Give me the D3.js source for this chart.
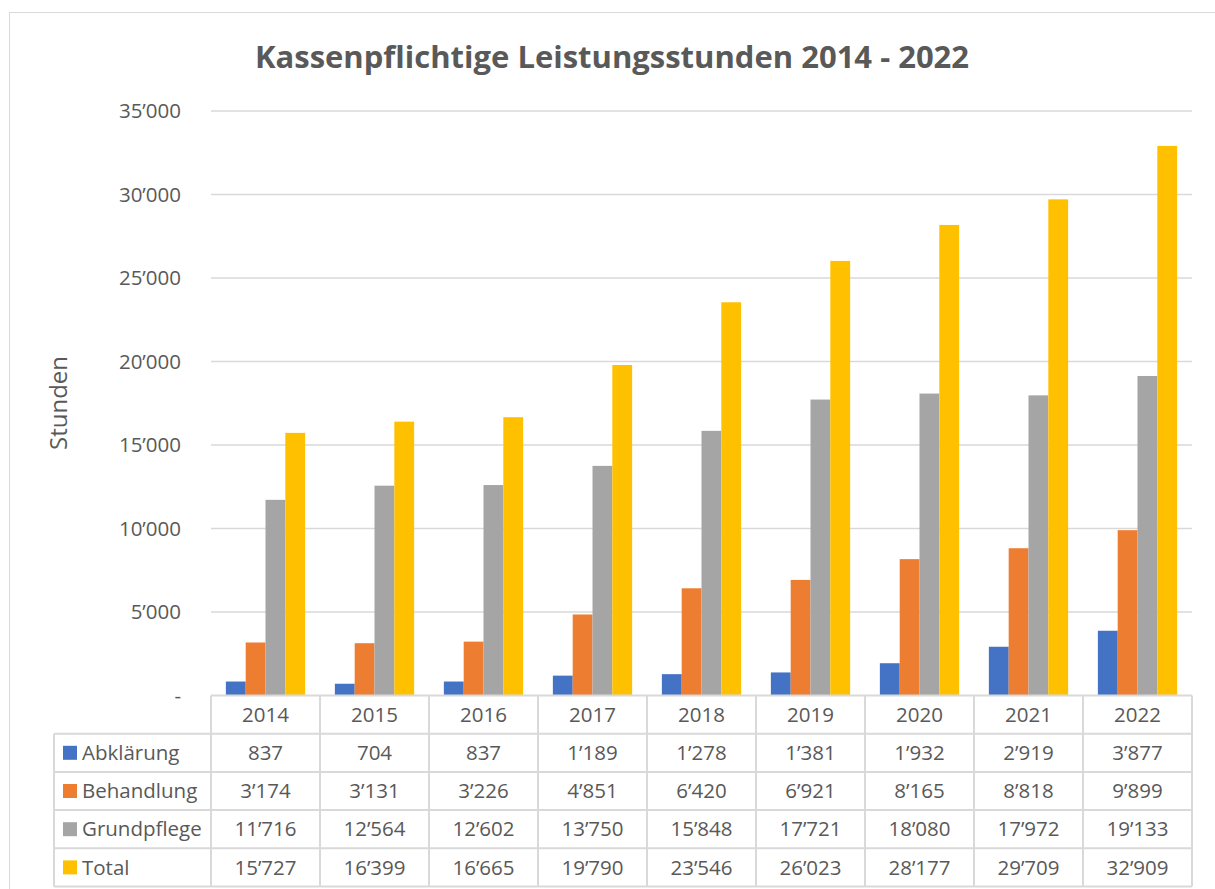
<!DOCTYPE html>
<html>
<head>
  <meta charset="UTF-8">
  <title>Kassenpflichtige Leistungsstunden</title>
  <script src="https://d3js.org/d3.v7.min.js"></script>
  <style>
    body { margin: 0; background: #fff; font-family: "Open Sans", Arial, sans-serif; }
    svg text { fill: #595959; }
  </style>
</head>
<body>
  <svg id="chart" width="1215" height="889"></svg>
  <script>
    const years = ["2014", "2015", "2016", "2017", "2018", "2019", "2020", "2021", "2022"];
    const seriesNames = ["Abklärung", "Behandlung", "Grundpflege", "Total"];
    const abklaerung = [837, 704, 837, 1189, 1278, 1381, 1932, 2919, 3877];
    const behandlung = [3174, 3131, 3226, 4851, 6420, 6921, 8165, 8818, 9899];
    const grundpflege = [11716, 12564, 12602, 13750, 15848, 17721, 18080, 17972, 19133];
    const total = [15727, 16399, 16665, 19790, 23546, 26023, 28177, 29709, 32909];
    const yTicks = [0, 5000, 10000, 15000, 20000, 25000, 30000, 35000];
    const colors = ["#4472C4", "#ED7D31", "#A5A5A5", "#FFC000"];

    const values = [abklaerung, behandlung, grundpflege, total];

    const locale = d3.formatLocale({ decimal: ".", thousands: "\u2019", grouping: [3], currency: ["", ""] });
    const fmt = locale.format(",d");

    const plot = { left: 211, right: 1192, top: 111, bottom: 695.5 };
    const rowH = 38.2;
    const tableLeft = 54;

    const svg = d3.select("#chart");

    // outer chart border
    svg.append("rect")
      .attr("x", 9.5).attr("y", 12.5)
      .attr("width", 1230).attr("height", 900)
      .attr("fill", "none").attr("stroke", "#d9d9d9");

    const x = d3.scaleBand().domain(years).range([plot.left, plot.right]);
    // gap width 150%: each bar = band / 5.5, half the gap on each side
    const edge = x.bandwidth() * 0.75 / 5.5;
    const inner = d3.scaleBand().domain(d3.range(4))
      .range([edge, x.bandwidth() - edge]);

    const y = d3.scaleLinear().domain([0, 35000]).range([plot.bottom, plot.top]);

    // gridlines
    svg.append("g")
      .selectAll("line")
      .data(yTicks.filter(d => d > 0))
      .join("line")
      .attr("x1", plot.left).attr("x2", plot.right)
      .attr("y1", d => y(d)).attr("y2", d => y(d))
      .attr("stroke", "#d9d9d9").attr("stroke-width", 1.3);

    // y axis labels
    const yAxis = d3.axisLeft(y).tickValues(yTicks)
      .tickFormat(d => d === 0 ? "-" : fmt(d)).tickSize(0).tickPadding(30);
    const ya = svg.append("g").attr("transform", `translate(${plot.left},0)`).call(yAxis);
    ya.select(".domain").remove();
    ya.selectAll("text").style("font-size", "20.5px").style("font-family", "'Open Sans', Arial, sans-serif").attr("fill", "#595959");

    // bars
    const groups = svg.append("g").selectAll("g")
      .data(years)
      .join("g")
      .attr("transform", d => `translate(${x(d)},0)`);

    groups.selectAll("rect")
      .data((yr, i) => values.map((v, s) => ({ s, v: v[i] })))
      .join("rect")
      .attr("x", d => inner(d.s))
      .attr("width", inner.bandwidth())
      .attr("y", d => y(d.v))
      .attr("height", d => y(0) - y(d.v))
      .attr("fill", d => colors[d.s]);

    // data table
    const tableBottom = plot.bottom + rowH * 5;
    const tbl = svg.append("g").attr("stroke", "#d9d9d9").attr("stroke-width", 2);
    tbl.append("line").attr("x1", plot.left).attr("x2", plot.right)
      .attr("y1", plot.bottom).attr("y2", plot.bottom);
    d3.range(1, 6).forEach(r => {
      tbl.append("line").attr("x1", tableLeft).attr("x2", plot.right)
        .attr("y1", plot.bottom + rowH * r).attr("y2", plot.bottom + rowH * r);
    });
    tbl.append("line").attr("x1", tableLeft).attr("x2", tableLeft)
      .attr("y1", plot.bottom + rowH).attr("y2", tableBottom);
    years.forEach(yr => {
      tbl.append("line").attr("x1", x(yr)).attr("x2", x(yr))
        .attr("y1", plot.bottom).attr("y2", tableBottom);
    });
    tbl.append("line").attr("x1", plot.right).attr("x2", plot.right)
      .attr("y1", plot.bottom).attr("y2", tableBottom);

    const txt = svg.append("g").style("font-size", "20.5px");

    txt.selectAll(".yr")
      .data(years)
      .join("text")
      .attr("class", "yr")
      .attr("x", d => x(d) + x.bandwidth() / 2)
      .attr("y", plot.bottom + rowH / 2)
      .attr("dy", "0.35em")
      .attr("text-anchor", "middle")
      .text(d => d);

    seriesNames.forEach((name, s) => {
      const cy = plot.bottom + rowH * (s + 1) + rowH / 2;
      txt.append("rect")
        .attr("x", 63).attr("y", cy - 7)
        .attr("width", 14).attr("height", 14)
        .attr("fill", colors[s]);
      txt.append("text")
        .attr("x", 82).attr("y", cy).attr("dy", "0.35em")
        .text(name);
      txt.selectAll(".v" + s)
        .data(values[s])
        .join("text")
        .attr("class", "v" + s)
        .attr("x", (d, i) => x(years[i]) + x.bandwidth() / 2)
        .attr("y", cy).attr("dy", "0.35em")
        .attr("text-anchor", "middle")
        .text(d => fmt(d));
    });

    // axis title
    svg.append("text")
      .attr("transform", "translate(67,403) rotate(-90)")
      .attr("text-anchor", "middle")
      .style("font-size", "24px")
      .text("Stunden");

    // chart title
    svg.append("text")
      .attr("x", 612).attr("y", 68)
      .attr("text-anchor", "middle")
      .style("font-size", "31px").style("font-weight", "bold")
      .text("Kassenpflichtige Leistungsstunden 2014 - 2022");
  </script>
</body>
</html>
